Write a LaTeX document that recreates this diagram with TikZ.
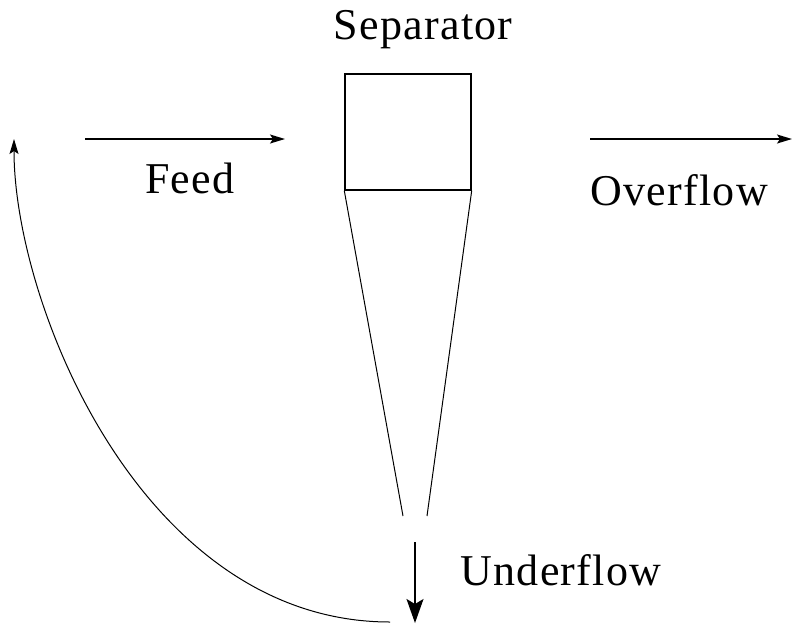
\documentclass[tikz,border=0pt]{standalone}
\usepackage{fontspec}
\setmainfont{Liberation Serif}[LetterSpace=3]
\usetikzlibrary{arrows.meta}
\tikzset{
  lbl/.style={font=\fontsize{44}{48}\selectfont, inner sep=0pt},
  flow/.style={line width=1.4pt, -{Stealth[length=15pt,width=9pt,inset=3pt]}},
  bigflow/.style={line width=1.4pt, -{Stealth[length=24pt,width=17pt,inset=5pt]}},
  thin/.style={line width=1pt}
}
\begin{document}
\begin{tikzpicture}[x=1pt,y=-1pt]
\useasboundingbox (0,0) rectangle (792,625);
\node[draw, line width=1.4pt, minimum width=126pt, minimum height=116pt, inner sep=0pt] (box) at (408,132) {};
\node[lbl] (sep) at (423,30) {Separator};
\coordinate (coneL) at (403,516);
\coordinate (coneR) at (427,516);
\draw[thin] (box.south west) -- (coneL);
\draw[thin] (box.south east) -- (coneR);
% feed
\coordinate (feedA) at (85,139);
\coordinate (feedB) at (285,139);
\draw[flow] (feedA) -- (feedB);
\node[lbl] (feed) at (190,178) {Feed};
% overflow
\coordinate (ovA) at (590,139);
\coordinate (ovB) at (792,139);
\draw[flow] (ovA) -- (ovB);
\node[lbl] (over) at (679,190) {Overflow};
% underflow
\coordinate (unA) at (415,542);
\coordinate (unB) at (415,623);
\draw[bigflow] (unA) -- (unB);
\node[lbl] (under) at (561,570) {Underflow};
% recycle
\coordinate (recA) at (390,622);
\coordinate (recB) at (14,139);
\draw[thin, -{Stealth[length=15pt,width=9pt,inset=3pt]}] (recA) .. controls (142,622) and (14,304) .. (recB);
\end{tikzpicture}
\end{document}
